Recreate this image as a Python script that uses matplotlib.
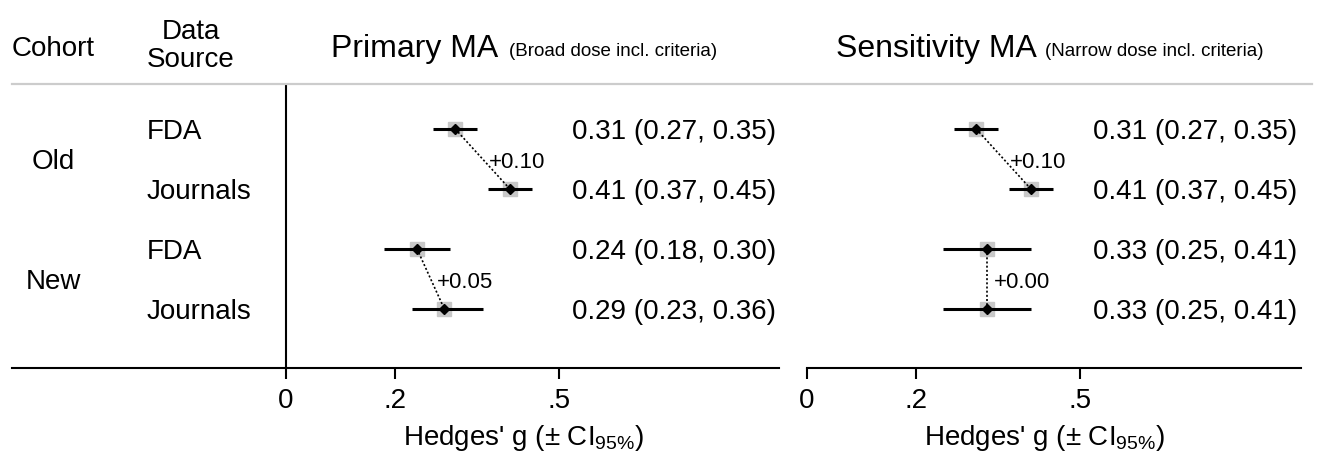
import matplotlib
matplotlib.use("Agg")
import matplotlib.pyplot as plt
from matplotlib.lines import Line2D
from matplotlib.transforms import blended_transform_factory, offset_copy

# data
cohorts = ["Old", "New"]
sources = ["FDA", "Journals", "FDA", "Journals"]

primary_g = [0.31, 0.41, 0.24, 0.29]
primary_lo = [0.27, 0.37, 0.18, 0.23]
primary_hi = [0.35, 0.45, 0.30, 0.36]
primary_diff = ["+0.10", "+0.05"]

sens_g = [0.31, 0.41, 0.33, 0.33]
sens_lo = [0.27, 0.37, 0.25, 0.25]
sens_hi = [0.35, 0.45, 0.41, 0.41]
sens_diff = ["+0.10", "+0.00"]

xticks = [0, 0.2, 0.5]
xtick_labels = ["0", ".2", ".5"]

W, H = 1318, 452
PX_PER_UNIT = 546.0
FS = 20

plt.rcParams.update({
    "font.family": "Liberation Sans",
    "font.size": FS,
    "mathtext.fontset": "custom",
    "mathtext.rm": "Liberation Sans",
    "mathtext.it": "Liberation Sans:italic",
    "mathtext.bf": "Liberation Sans:bold",
})

fig = plt.figure(figsize=(W / 100, H / 100), dpi=100)


def fx(px):
    return px / W


def fy(py):
    return 1 - py / H


def make_axes(left_px, right_px, zero_px, top_px=86, bottom_px=369):
    ax = fig.add_axes([fx(left_px), fy(bottom_px), fx(right_px - left_px), (bottom_px - top_px) / H])
    ax.set_xlim((left_px - zero_px) / PX_PER_UNIT, (right_px - zero_px) / PX_PER_UNIT)
    # rows sit 60 px apart, first row 44 px under the top edge
    ax.set_ylim((bottom_px - 130) / 60, (top_px - 130) / 60)
    for side in ("top", "right", "left"):
        ax.spines[side].set_visible(False)
    ax.spines["bottom"].set_linewidth(1.5)
    ax.set_yticks([])
    ax.set_xticks(xticks)
    ax.set_xticklabels(xtick_labels)
    ax.tick_params(axis="x", direction="out", length=8, width=1.5, pad=6, labelsize=FS)
    ax.patch.set_visible(False)
    return ax


def draw_panel(ax, g, lo, hi, diffs):
    rows = list(range(len(g)))
    txt_tr = offset_copy(ax.transData, fig=fig, y=-2, units="dots")
    ax.plot(g, rows, "s", color="#c8c8c8", ms=10, zorder=2, ls="none")
    ax.hlines(rows, lo, hi, color="black", lw=2.2, zorder=3)
    ax.plot(g, rows, "D", color="black", ms=5, zorder=4, ls="none")
    for i in range(0, len(g), 2):
        ax.plot([g[i], g[i + 1]], [i, i + 1], color="black", lw=1.2,
                ls=(0, (1.2, 1.3)), zorder=3)
        ax.annotate(diffs[i // 2], xy=((g[i] + g[i + 1]) / 2, i + 0.5),
                    xytext=(4.5, -1.5), textcoords="offset points",
                    ha="left", va="center", fontsize=16)
    for i in rows:
        ax.text(0.524, i, f"{g[i]:.2f} ({lo[i]:.2f}, {hi[i]:.2f})",
                transform=txt_tr, ha="left", va="center", fontsize=FS)


ax1 = make_axes(12, 779, 286)
ax1.axvline(0, color="black", lw=1.5, zorder=1)
draw_panel(ax1, primary_g, primary_lo, primary_hi, primary_diff)

ax2 = make_axes(807, 1301, 807)
draw_panel(ax2, sens_g, sens_lo, sens_hi, sens_diff)

# row labels on the left
tr = offset_copy(blended_transform_factory(fig.transFigure, ax1.transData),
                 fig=fig, y=-2, units="dots")
for i, name in enumerate(sources):
    ax1.text(fx(147), i, name, transform=tr, ha="left", va="center", fontsize=FS)
for k, name in enumerate(cohorts):
    ax1.text(fx(53), 2 * k + 0.5, name, transform=tr, ha="center", va="center", fontsize=FS)

# header
fig.text(fx(53), fy(49), "Cohort", ha="center", va="center", fontsize=FS)
fig.text(fx(191), fy(32), "Data", ha="center", va="center", fontsize=FS)
fig.text(fx(191), fy(60), "Source", ha="center", va="center", fontsize=FS)
fig.text(fx(331), fy(49), "Primary MA", ha="left", va="center", fontsize=23)
fig.text(fx(509), fy(51), "(Broad dose incl. criteria)", ha="left", va="center", fontsize=13.5)
fig.text(fx(836), fy(49), "Sensitivity MA", ha="left", va="center", fontsize=23)
fig.text(fx(1045), fy(51), "(Narrow dose incl. criteria)", ha="left", va="center", fontsize=13.5)

fig.add_artist(Line2D([fx(12), fx(1312)], [fy(85), fy(85)], color="#cccccc", lw=1.6,
                      transform=fig.transFigure))

# axis titles
xlabel = r"Hedges' g ($\pm$ CI$_{95\%}$)"
fig.text(fx(524), fy(438), xlabel, ha="center", va="center", fontsize=FS)
fig.text(fx(1045), fy(438), xlabel, ha="center", va="center", fontsize=FS)

fig.savefig("out.png", dpi=100, facecolor="white")
